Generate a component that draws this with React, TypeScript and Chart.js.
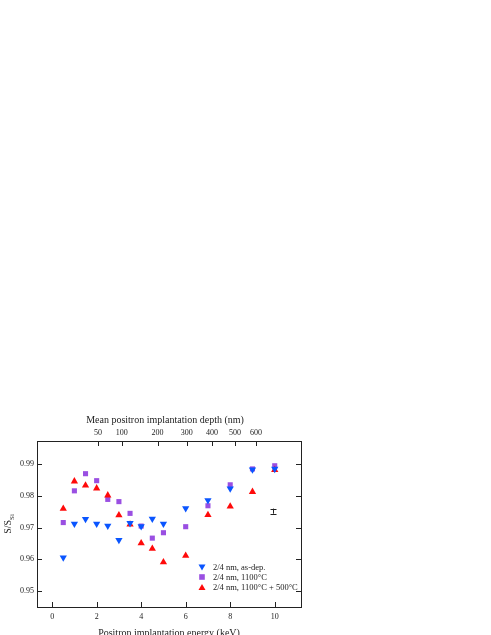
import React, { useEffect, useRef } from "react";
import { Chart, registerables } from "chart.js";
Chart.register(...registerables);

const energyAsDep = [0.5, 1, 1.5, 2, 2.5, 3, 3.5, 4, 4.5, 5, 6, 7, 8, 9, 10];
const sAsDep = [0.9606, 0.9712, 0.9727, 0.9712, 0.9706, 0.9661, 0.9714, 0.9704, 0.9728, 0.9712, 0.9761, 0.9786, 0.9823, 0.9883, 0.9885];
const energy1100 = [0.5, 1, 1.5, 2, 2.5, 3, 3.5, 4, 4.5, 5, 6, 7, 8, 9, 10];
const s1100 = [0.9716, 0.9816, 0.987, 0.9848, 0.9789, 0.9782, 0.9745, 0.9705, 0.9667, 0.9684, 0.9703, 0.9769, 0.9835, 0.9885, 0.9895];
const energy1100_500 = [0.5, 1, 1.5, 2, 2.5, 3, 3.5, 4, 4.5, 5, 6, 7, 8, 9, 10];
const s1100_500 = [0.976, 0.9846, 0.9833, 0.9824, 0.9802, 0.9739, 0.971, 0.9651, 0.9634, 0.9591, 0.9612, 0.974, 0.9767, 0.9813, 0.9882];
const seriesLabels = ["2/4 nm, as-dep.", "2/4 nm, 1100°C", "2/4 nm, 1100°C + 500°C"];
const seriesColors = ["#0a55ff", "#9a4fe2", "#ff0a0a"];

const xTicks = [0, 2, 4, 6, 8, 10];
const yTicks = [0.95, 0.96, 0.97, 0.98, 0.99];
const depthTicks = [50, 100, 200, 300, 400, 500, 600];
const DEPTH_A = 15.01;
const DEPTH_N = 1.665;
const errE = 9.9;
const errS = 0.9752;
const errHalf = 0.0008;

const xTitle = "Positron implantation energy (keV)";
const x2Title = "Mean positron implantation depth (nm)";

const depthToE = (d: number) => Math.pow(d / DEPTH_A, 1 / DEPTH_N);
const FONT = "'Liberation Serif', 'Times New Roman', serif";

const framePlugin = {
  id: "framePlugin",
  afterDraw(chart: any) {
    const { ctx, chartArea: a, scales } = chart;
    const x = scales.x, y = scales.y;
    ctx.save();
    ctx.strokeStyle = "#222";
    ctx.lineWidth = 1;
    ctx.strokeRect(a.left + 0.5, a.top + 0.5, a.right - a.left, a.bottom - a.top);
    const tl = 5;
    ctx.beginPath();
    xTicks.forEach((v) => {
      const px = Math.round(x.getPixelForValue(v)) + 0.5;
      ctx.moveTo(px, a.bottom);
      ctx.lineTo(px, a.bottom - tl);
    });
    depthTicks.forEach((d) => {
      const px = Math.round(x.getPixelForValue(depthToE(d))) + 0.5;
      ctx.moveTo(px, a.top);
      ctx.lineTo(px, a.top + tl);
    });
    yTicks.forEach((v) => {
      const py = Math.round(y.getPixelForValue(v)) + 0.5;
      ctx.moveTo(a.left, py);
      ctx.lineTo(a.left + tl, py);
      ctx.moveTo(a.right, py);
      ctx.lineTo(a.right - tl, py);
    });
    ctx.stroke();

    // error bar
    const ex = Math.round(x.getPixelForValue(errE)) + 0.5;
    const ey1 = y.getPixelForValue(errS + errHalf);
    const ey2 = y.getPixelForValue(errS - errHalf);
    ctx.beginPath();
    ctx.moveTo(ex, ey1);
    ctx.lineTo(ex, ey2);
    ctx.moveTo(ex - 3, Math.round(ey1) + 0.5);
    ctx.lineTo(ex + 3, Math.round(ey1) + 0.5);
    ctx.moveTo(ex - 3, Math.round(ey2) + 0.5);
    ctx.lineTo(ex + 3, Math.round(ey2) + 0.5);
    ctx.stroke();

    // titles
    ctx.fillStyle = "#222";
    ctx.font = `10px ${FONT}`;
    ctx.textAlign = "center";
    ctx.textBaseline = "middle";
    ctx.fillText(x2Title, (a.left + a.right) / 2 - 4, 420);
    ctx.fillText(xTitle, (a.left + a.right) / 2, 633);

    // y title with subscript
    ctx.save();
    ctx.translate(8, (a.top + a.bottom) / 2);
    ctx.rotate(-Math.PI / 2);
    ctx.textAlign = "left";
    ctx.textBaseline = "alphabetic";
    const main = "S/S";
    const sub = "Si";
    ctx.font = `7px ${FONT}`;
    const wSub = ctx.measureText(sub).width;
    ctx.font = `10px ${FONT}`;
    const wMain = ctx.measureText(main).width;
    const start = -(wMain + wSub) / 2;
    ctx.fillText(main, start, 3);
    ctx.font = `7px ${FONT}`;
    ctx.fillText(sub, start + wMain, 5.5);
    ctx.restore();

    // legend
    const lx = 202;
    const rows = [567.5, 577, 587];
    ctx.font = `8.5px ${FONT}`;
    ctx.textAlign = "left";
    ctx.textBaseline = "middle";
    rows.forEach((ry, i) => {
      ctx.fillStyle = seriesColors[i];
      ctx.beginPath();
      if (i === 0) {
        ctx.moveTo(lx - 3.5, ry - 3);
        ctx.lineTo(lx + 3.5, ry - 3);
        ctx.lineTo(lx, ry + 3);
      } else if (i === 1) {
        ctx.rect(lx - 2.8, ry - 2.8, 5.6, 5.6);
      } else {
        ctx.moveTo(lx - 3.5, ry + 3);
        ctx.lineTo(lx + 3.5, ry + 3);
        ctx.lineTo(lx, ry - 3);
      }
      ctx.closePath();
      ctx.fill();
      ctx.fillStyle = "#222";
      ctx.fillText(seriesLabels[i], lx + 11, ry + 0.5);
    });
    ctx.restore();
  },
};

export default function App() {
  const ref = useRef<HTMLCanvasElement | null>(null);
  useEffect(() => {
    document.body.style.margin = "0";
    const canvas = ref.current;
    if (!canvas) return;
    const mk = (xs: number[], ys: number[]) => xs.map((e, i) => ({ x: e, y: ys[i] }));
    const chart = new Chart(canvas, {
      type: "scatter",
      data: {
        datasets: [
          {
            label: seriesLabels[1],
            data: mk(energy1100, s1100),
            pointStyle: "rect",
            pointRadius: 3.6,
            backgroundColor: seriesColors[1],
            borderColor: seriesColors[1],
            borderWidth: 0,
            order: 3,
          },
          {
            label: seriesLabels[2],
            data: mk(energy1100_500, s1100_500),
            pointStyle: "triangle",
            pointRadius: 4.2,
            backgroundColor: seriesColors[2],
            borderColor: seriesColors[2],
            borderWidth: 0,
            order: 2,
          },
          {
            label: seriesLabels[0],
            data: mk(energyAsDep, sAsDep),
            pointStyle: "triangle",
            rotation: 180,
            pointRadius: 4.2,
            backgroundColor: seriesColors[0],
            borderColor: seriesColors[0],
            borderWidth: 0,
            order: 1,
          },
        ],
      },
      options: {
        animation: false,
        responsive: true,
        maintainAspectRatio: false,
        layout: { padding: { left: 7, right: 190, top: 411, bottom: 0 } },
        plugins: { legend: { display: false }, tooltip: { enabled: false } },
        scales: {
          x: {
            type: "linear",
            position: "bottom",
            min: -0.68,
            max: 11.18,
            grid: { display: false, drawTicks: false },
            border: { display: false },
            afterBuildTicks: (s: any) => {
              s.ticks = xTicks.map((v) => ({ value: v }));
            },
            afterFit: (s: any) => {
              s.height = 28;
            },
            ticks: {
              padding: 5,
              color: "#222",
              font: { family: FONT, size: 8 },
              maxRotation: 0,
              callback: (v: any) => String(v),
            },
          },
          x2: {
            type: "linear",
            position: "top",
            min: -0.68,
            max: 11.18,
            grid: { display: false, drawTicks: false },
            border: { display: false },
            afterBuildTicks: (s: any) => {
              s.ticks = depthTicks.map((d) => ({ value: depthToE(d) }));
            },
            afterFit: (s: any) => {
              s.height = 30;
            },
            ticks: {
              padding: 3,
              color: "#222",
              font: { family: FONT, size: 8 },
              maxRotation: 0,
              autoSkip: false,
              callback: (_v: any, i: number) => String(depthTicks[i]),
            },
          },
          y: {
            type: "linear",
            min: 0.945,
            max: 0.9973,
            grid: { display: false, drawTicks: false },
            border: { display: false },
            afterBuildTicks: (s: any) => {
              s.ticks = yTicks.map((v) => ({ value: v }));
            },
            afterFit: (s: any) => {
              s.width = 30;
            },
            ticks: {
              padding: 3,
              color: "#222",
              font: { family: FONT, size: 8 },
              callback: (v: any) => Number(v).toFixed(2),
            },
          },
        },
      },
      plugins: [framePlugin],
    } as any);
    return () => chart.destroy();
  }, []);
  return (
    <div style={{ position: "relative", width: 491, height: 635 }}>
      <canvas ref={ref} />
    </div>
  );
}
